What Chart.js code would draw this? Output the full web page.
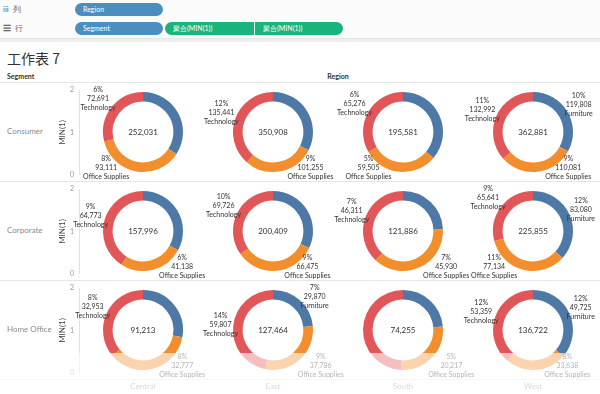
<!DOCTYPE html>
<html>
<head>
<meta charset="utf-8">
<script src="https://cdn.jsdelivr.net/npm/chart.js@4.4.1/dist/chart.umd.min.js"></script>
<style>
  body { margin: 0; width: 600px; height: 394px; position: relative; overflow: hidden; background: #fff; font-family: Lato, "Open Sans", sans-serif; }
  .abs { position: absolute; }
  .shelf { left: 0; width: 600px; height: 19px; border-bottom: 1px solid #e3e3e3; background: #fbfbfb; }
  .shelf-name { left: 3px; font-size: 8px; color: #666; }
  .pill { height: 13px; line-height: 13px; border-radius: 7px; color: #fff; font-size: 7px; padding-left: 8px; box-sizing: border-box; }
  .blue { background: #4a8fbd; }
  .green { background: #19b47c; }
  .seg { left: 7px; font-size: 8px; color: #8a8a8a; font-weight: normal; }
  .region { font-size: 8px; color: #999; width: 80px; text-align: center; }
  .hline { left: 0; width: 600px; height: 1px; background: #e6e6e6; }
</style>
</head>
<body>
<div class="abs shelf" style="top:0"></div>
<div class="abs shelf" style="top:19px"></div>
<div class="abs" style="top:39px;left:0;width:600px;height:3px;background:#efefef"></div>
<div class="abs shelf-name" style="top:4px">iii&nbsp;&nbsp;列</div>
<div class="abs shelf-name" style="top:23px">☰&nbsp;&nbsp;行</div>
<div class="abs pill blue" style="top:3px;left:75px;width:88px">Region</div>
<div class="abs pill blue" style="top:22px;left:75px;width:88px">Segment</div>
<div class="abs pill green" style="top:22px;left:165px;width:89px;border-radius:7px 0 0 7px">聚合(MIN(1))</div>
<div class="abs pill green" style="top:22px;left:255px;width:88px;border-radius:0 7px 7px 0">聚合(MIN(1))</div>
<div class="abs" style="top:48px;left:7px;font-size:14px;color:#333;font-family:'Noto Sans CJK SC',sans-serif">工作表 7</div>
<div class="abs" style="top:72px;left:7px;font-size:7px;font-weight:bold;color:#333">Segment</div>
<div class="abs" style="top:72px;left:318px;width:40px;text-align:center;font-size:7px;font-weight:bold;color:#333">Region</div>
<div id="grid"></div>
<div class="abs" style="top:353px;left:0;width:600px;height:41px;background:rgba(255,255,255,0.62)"></div>

<script>
const segments = ['Consumer', 'Corporate', 'Home Office'];
const regions = ['Central', 'East', 'South', 'West'];
const categories = ['Furniture', 'Office Supplies', 'Technology'];

// rows = segments, columns = regions
const totals = [
  [252031, 350908, 195581, 362881],
  [157996, 200409, 121886, 225855],
  [91213, 127464, 74255, 136722]
];
const furniture = [
  [86229, 114212, 70800, 119808],
  [52085, 64208, 29645, 83080],
  [25483, 29870, 17500, 49725]
];
const officeSupplies = [
  [93111, 101255, 59505, 110081],
  [41138, 66475, 45930, 77134],
  [32777, 37786, 20217, 33638]
];
const technology = [
  [72691, 135441, 65276, 132992],
  [64773, 69726, 46311, 65641],
  [32953, 59807, 36538, 53359]
];
// which slices carry a label (index into categories)
const shownLabels = [
  [[2, 1], [2, 1], [2, 1], [0, 1, 2]],
  [[2, 1], [2, 1], [2, 1], [0, 1, 2]],
  [[2, 1], [2, 0, 1], [1], [2, 0, 1]]
];
const axisTicks = [0, 1, 2];
const colors = ['#4e79a7', '#f28e2b', '#e15759'];

const rowTop = 83, rowH = 98, rowStep = 99;
const paneLeft = 78, colW = 130;
const font = 'Lato, "Open Sans", sans-serif';

const sliceLabels = {
  id: 'sliceLabels',
  afterDatasetsDraw(chart, args, opts) {
    const ctx = chart.ctx;
    const arcs = chart.getDatasetMeta(0).data;
    const values = chart.data.datasets[0].data;
    const cx = arcs[0].x, cy = arcs[0].y;
    ctx.save();
    ctx.fillStyle = '#333';
    ctx.textAlign = 'center';
    ctx.textBaseline = 'middle';
    ctx.font = '8px ' + font;
    ctx.fillText(opts.total.toLocaleString('en-US'), cx, cy);
    ctx.font = '7px ' + font;
    const lh = 9;
    opts.shown.forEach(i => {
      const p = arcs[i].getProps(['startAngle', 'endAngle', 'outerRadius'], true);
      const mid = (p.startAngle + p.endAngle) / 2;
      const dx = Math.cos(mid), dy = Math.sin(mid);
      const lines = [
        Math.round(values[i] / opts.segTotal * 100) + '%',
        values[i].toLocaleString('en-US'),
        chart.data.labels[i]
      ];
      const w = Math.max(...lines.map(t => ctx.measureText(t).width));
      const h = lh * 3;
      const r = p.outerRadius - 6 + Math.abs(dx) * w / 2 + Math.abs(dy) * h / 2;
      let x = cx + dx * r, y = cy + dy * r;
      const yMin = h / 2 + 2, yMax = chart.height - h / 2;
      if (y < yMin || y > yMax) {
        y = Math.min(Math.max(y, yMin), yMax);
        const off = y - cy;
        x = cx + Math.sign(dx) * Math.sqrt(Math.max(r * r - off * off, 0));
      }
      lines.forEach((t, k) => ctx.fillText(t, x, y + (k - 1) * lh));
    });
    ctx.restore();
  }
};

const grid = document.getElementById('grid');

function addCanvas(left, top, w, h) {
  const c = document.createElement('canvas');
  c.width = w; c.height = h;
  c.className = 'abs';
  c.style.left = left + 'px';
  c.style.top = top + 'px';
  grid.appendChild(c);
  return c;
}

function addDiv(cls, style, text) {
  const d = document.createElement('div');
  d.className = 'abs ' + cls;
  d.setAttribute('style', style);
  d.textContent = text;
  grid.appendChild(d);
}

addDiv('hline', 'top:' + (rowTop - 1) + 'px', '');

segments.forEach((seg, s) => {
  const top = rowTop + s * rowStep;
  addDiv('seg', 'top:' + (top + rowH / 2 - 6) + 'px', seg);
  addDiv('hline', 'top:' + (top + rowH) + 'px', '');

  // MIN(1) axis for the row
  new Chart(addCanvas(paneLeft - 20, top - 2, 23, rowH + 5), {
    type: 'scatter',
    data: { datasets: [] },
    options: {
      responsive: false,
      animation: false,
      layout: { padding: 0 },
      plugins: { legend: { display: false }, tooltip: { enabled: false } },
      scales: {
        x: { display: false },
        y: {
          min: axisTicks[0], max: axisTicks[axisTicks.length - 1],
          afterBuildTicks: sc => { sc.ticks = axisTicks.map(v => ({ value: v })); },
          afterFit: sc => { sc.width = 21; },
          grid: { display: false, drawTicks: false },
          border: { color: '#e2e2e2' },
          ticks: { color: '#999', font: { size: 7, family: font }, padding: 5 },
          title: { display: true, text: 'MIN(1)', color: '#444', font: { size: 8, family: font }, padding: 0 }
        }
      }
    }
  });

  regions.forEach((reg, r) => {
    const cx = paneLeft + colW * r + colW / 2;
    const segTotal = totals[s].reduce((a, b) => a + b, 0);
    new Chart(addCanvas(cx - 90, top, 180, rowH), {
      type: 'doughnut',
      data: {
        labels: categories,
        datasets: [{
          data: [furniture[s][r], officeSupplies[s][r], technology[s][r]],
          backgroundColor: colors,
          borderWidth: 0
        }]
      },
      options: {
        responsive: false,
        animation: false,
        cutout: '76%',
        layout: { padding: { top: 9, bottom: 9, left: 40, right: 40 } },
        plugins: {
          legend: { display: false },
          tooltip: { enabled: false },
          sliceLabels: { total: totals[s][r], segTotal: segTotal, shown: shownLabels[s][r] }
        }
      },
      plugins: [sliceLabels]
    });
  });
});

regions.forEach((reg, r) => {
  const cx = paneLeft + colW * r + colW / 2;
  addDiv('region', 'top:381px;left:' + (cx - 40) + 'px', reg);
});
</script>
</body>
</html>
